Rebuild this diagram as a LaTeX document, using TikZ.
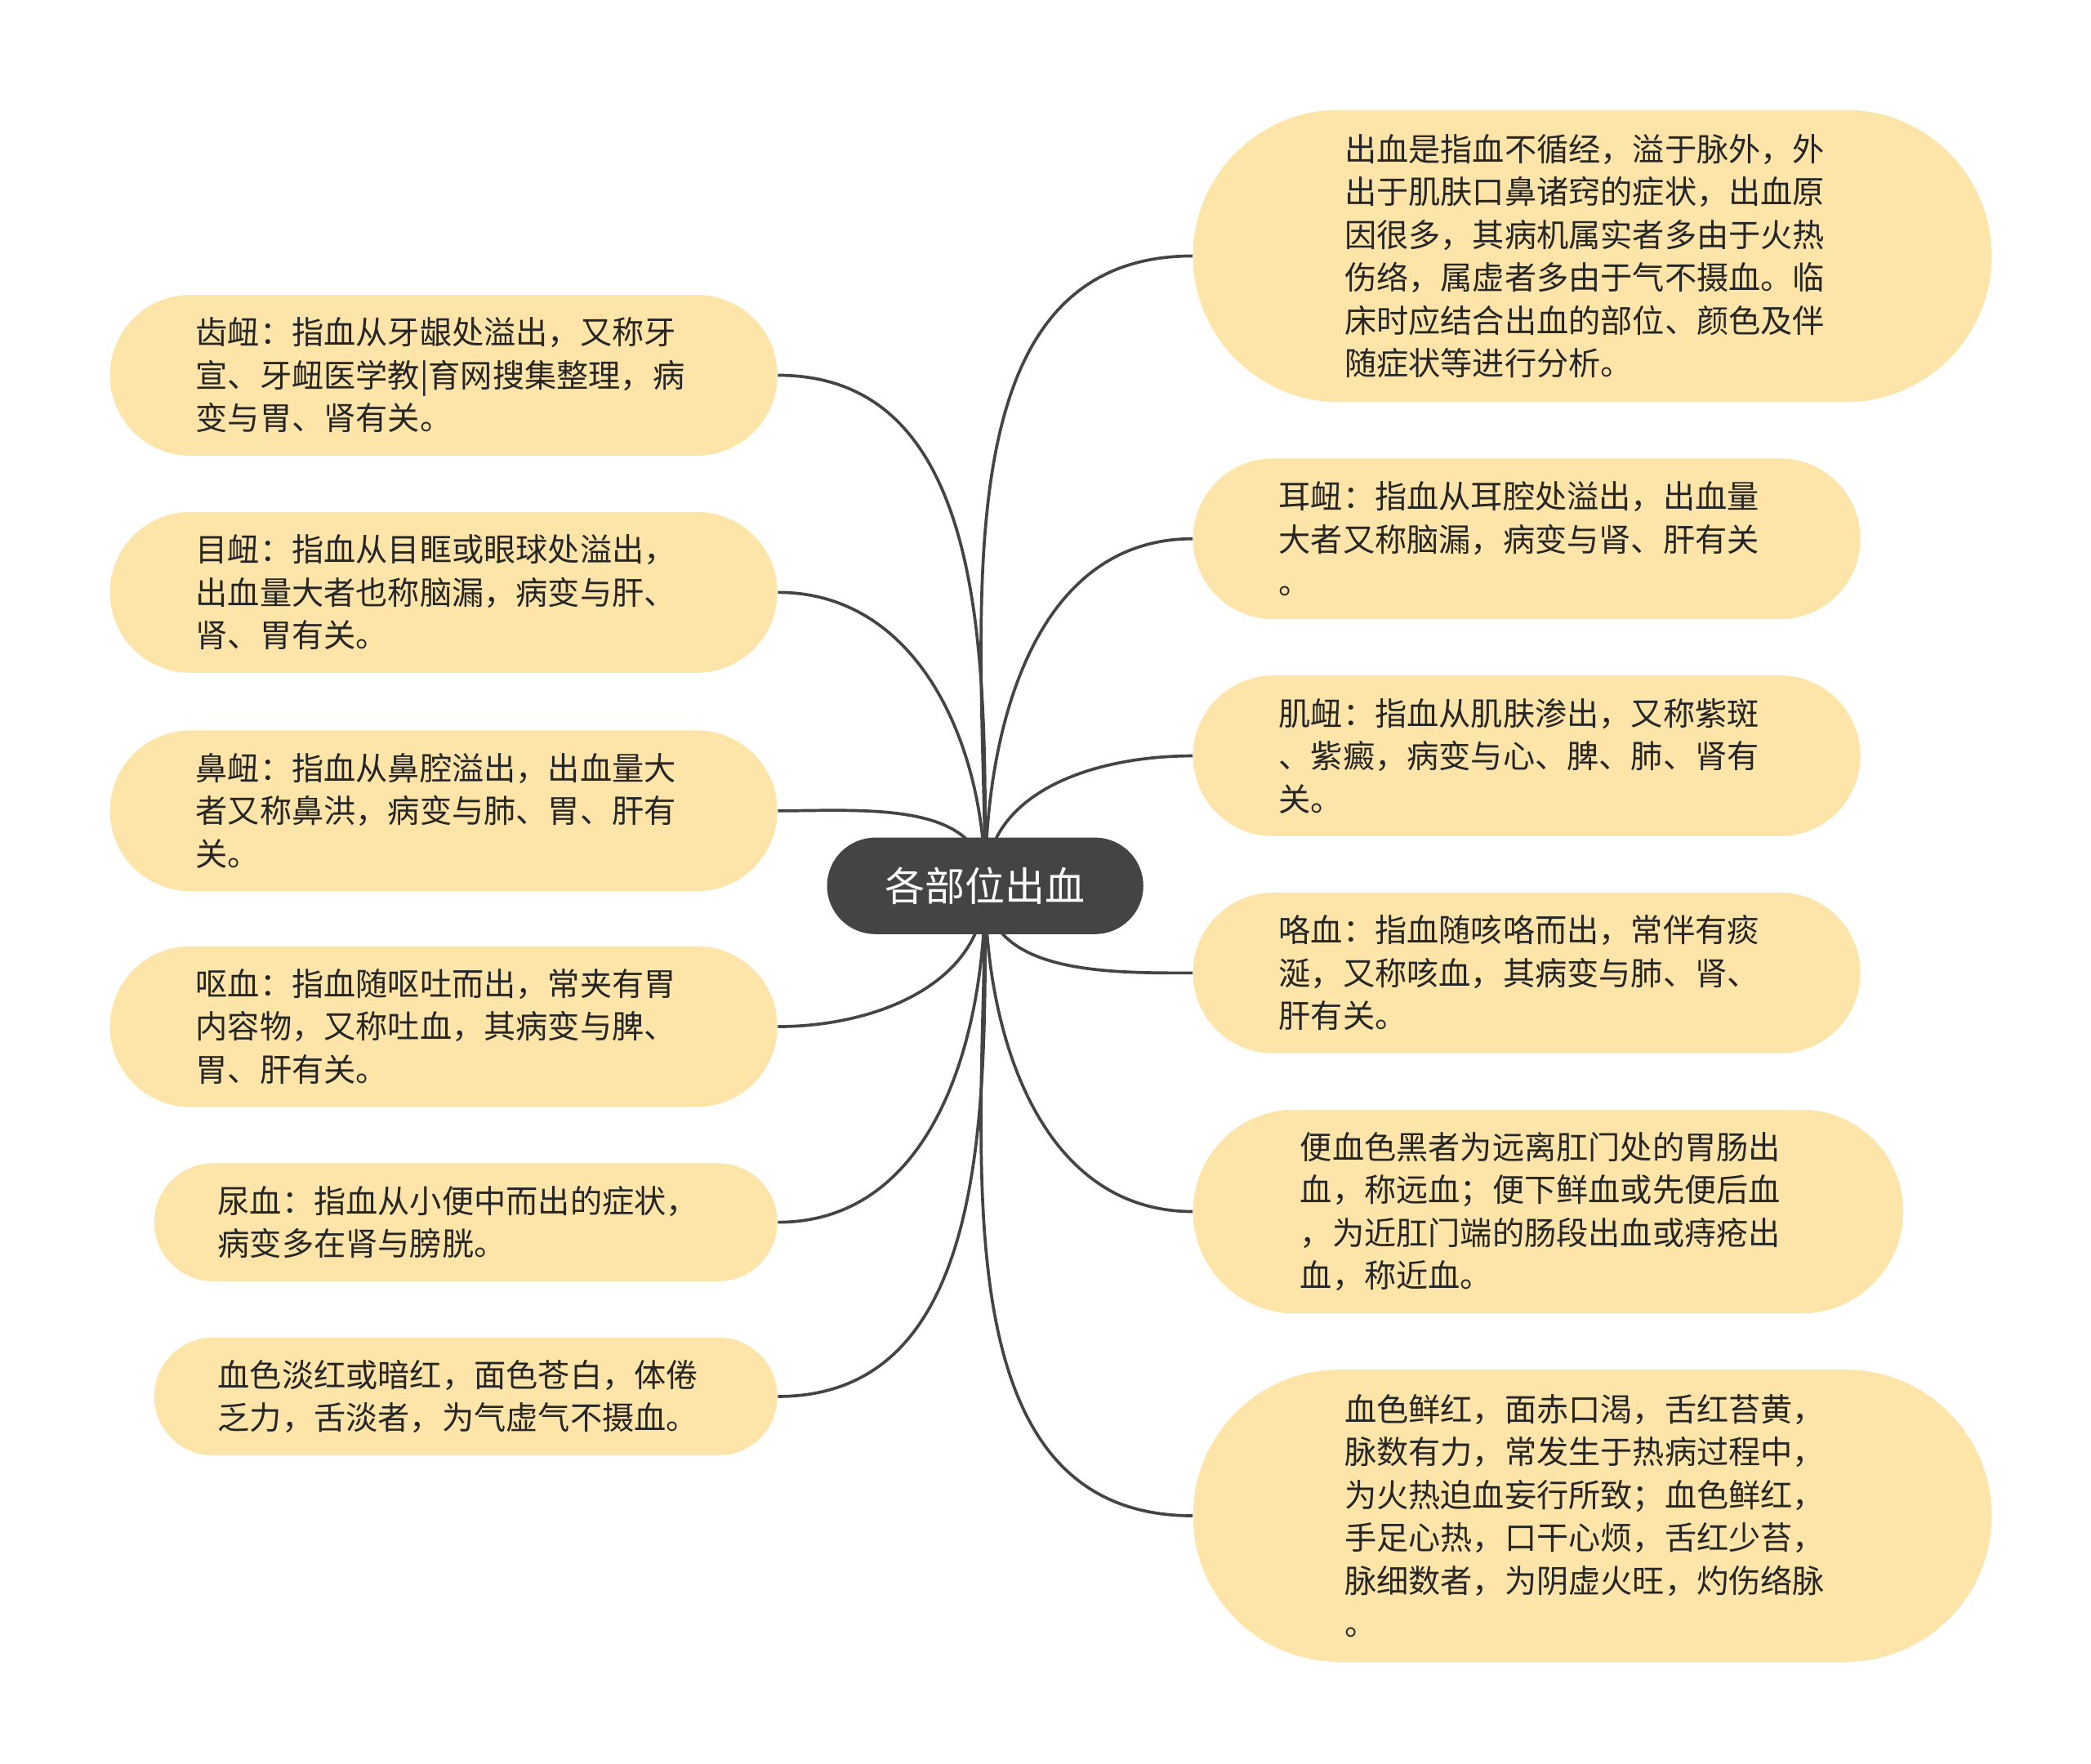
\documentclass[tikz,border=0pt]{standalone}
\usepackage{fontspec}
\setmainfont{Noto Sans CJK SC}
\usetikzlibrary{backgrounds}
\definecolor{leaf}{HTML}{FDE5A9}
\definecolor{hub}{HTML}{444444}
\tikzset{
  leafbox/.style 2 args={fill=leaf, minimum width=#1cm, minimum height=#2cm,
    rounded corners=#2*0.5cm, text width=7.4cm, align=left, inner sep=0pt,
    font=\fontsize{13.6}{18.2}\selectfont, text=black!85},
  link/.style={draw=hub, line width=0.045cm}
}
\begin{document}
\begin{tikzpicture}[x=0.02cm,y=-0.02cm]
  \useasboundingbox (0,0) rectangle (1560,1316);

  % central topic
  \node [fill=hub, text=white, minimum width=4.72cm, minimum height=1.44cm,
    rounded corners=0.72cm, font=\fontsize{17}{20}\selectfont] (c) at (735,661) {各部位出血};

  % left branches
  \node [leafbox={9.96}{2.4}] (l1) at (331,280) {齿衄：指血从牙龈处溢出，又称牙\\宣、牙衄医学教|育网搜集整理，病\\变与胃、肾有关。};
  \node [leafbox={9.96}{2.4}] (l2) at (331,442) {目衄：指血从目眶或眼球处溢出，\\出血量大者也称脑漏，病变与肝、\\肾、胃有关。};
  \node [leafbox={9.96}{2.4}] (l3) at (331,605) {鼻衄：指血从鼻腔溢出，出血量大\\者又称鼻洪，病变与肺、胃、肝有\\关。};
  \node [leafbox={9.96}{2.4}] (l4) at (331,766) {呕血：指血随呕吐而出，常夹有胃\\内容物，又称吐血，其病变与脾、\\胃、肝有关。};
  \node [leafbox={9.3}{1.76}] (l5) at (347.5,912) {尿血：指血从小便中而出的症状，\\病变多在肾与膀胱。};
  \node [leafbox={9.3}{1.76}] (l6) at (347.5,1042) {血色淡红或暗红，面色苍白，体倦\\乏力，舌淡者，为气虚气不摄血。};

  % right branches
  \node [leafbox={11.92}{4.36}] (r1) at (1188,191) {出血是指血不循经，溢于脉外，外\\出于肌肤口鼻诸窍的症状，出血原\\因很多，其病机属实者多由于火热\\伤络，属虚者多由于气不摄血。临\\床时应结合出血的部位、颜色及伴\\随症状等进行分析。};
  \node [leafbox={9.96}{2.4}] (r2) at (1139,402) {耳衄：指血从耳腔处溢出，出血量\\大者又称脑漏，病变与肾、肝有关\\。};
  \node [leafbox={9.96}{2.4}] (r3) at (1139,564) {肌衄：指血从肌肤渗出，又称紫斑\\、紫癜，病变与心、脾、肺、肾有\\关。};
  \node [leafbox={9.96}{2.4}] (r4) at (1139,726) {咯血：指血随咳咯而出，常伴有痰\\涎，又称咳血，其病变与肺、肾、\\肝有关。};
  \node [leafbox={10.6}{3.04}] (r5) at (1155,904) {便血色黑者为远离肛门处的胃肠出\\血，称远血；便下鲜血或先便后血\\，为近肛门端的肠段出血或痔疮出\\血，称近血。};
  \node [leafbox={11.92}{4.36}] (r6) at (1188,1131) {血色鲜红，面赤口渴，舌红苔黄，\\脉数有力，常发生于热病过程中，\\为火热迫血妄行所致；血色鲜红，\\手足心热，口干心烦，舌红少苔，\\脉细数者，为阴虚火旺，灼伤络脉\\。};

  \begin{pgfonlayer}{background}
    \foreach \n in {l1,l2,l3}
      \draw [link] (c.center) to[out=90,in=0] (\n.east);
    \foreach \n in {l4,l5,l6}
      \draw [link] (c.center) to[out=-90,in=0] (\n.east);
    \foreach \n in {r1,r2,r3}
      \draw [link] (c.center) to[out=90,in=180] (\n.west);
    \foreach \n in {r4,r5,r6}
      \draw [link] (c.center) to[out=-90,in=180] (\n.west);
  \end{pgfonlayer}
\end{tikzpicture}
\end{document}
